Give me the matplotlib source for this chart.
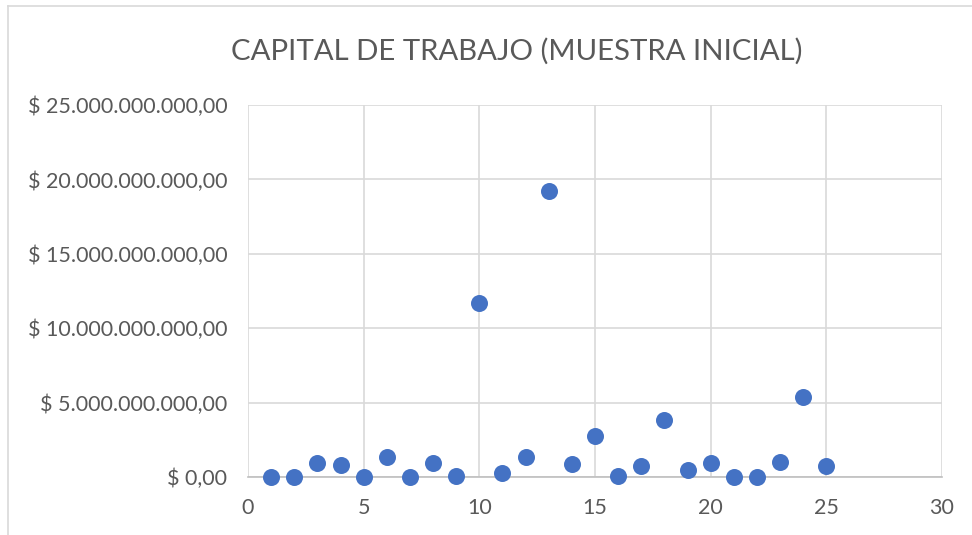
import matplotlib.pyplot as plt
from matplotlib.ticker import FuncFormatter
from matplotlib.lines import Line2D

muestra = list(range(1, 26))
capital = [0.02e9, 0.01e9, 0.94e9, 0.83e9, 0.01e9, 1.32e9, 0.03e9, 0.96e9, 0.08e9, 11.7e9,
           0.25e9, 1.36e9, 19.2e9, 0.85e9, 2.77e9, 0.07e9, 0.74e9, 3.85e9, 0.47e9, 0.96e9,
           0.01e9, 0.01e9, 1.01e9, 5.36e9, 0.74e9]
x_ticks = [0, 5, 10, 15, 20, 25, 30]
y_ticks = [0, 5e9, 10e9, 15e9, 20e9, 25e9]

plt.rcParams["font.family"] = ["Lato", "DejaVu Sans"]


def pesos(v, pos):
    if v == 0:
        return "$ 0,00"
    s = f"{v:,.2f}".replace(",", "X").replace(".", ",").replace("X", ".")
    return f"$ {s}"


fig = plt.figure(figsize=(9.72, 5.35), dpi=100)
ax = fig.add_axes([248 / 972, 1 - 477 / 535, (942 - 248) / 972, (477 - 105) / 535])

ax.scatter(muestra, capital, s=150, color="#4472C4", zorder=3, linewidths=0, clip_on=False)

ax.set_xlim(0, 30)
ax.set_ylim(0, 25e9)
ax.set_xticks(x_ticks)
ax.set_yticks(y_ticks)
ax.yaxis.set_major_formatter(FuncFormatter(pesos))
ax.grid(True, color="#d9d9d9", linewidth=1.2)
ax.set_axisbelow(True)
for side in ["top", "right", "left"]:
    ax.spines[side].set_visible(False)
ax.spines["bottom"].set_color("#bfbfbf")
ax.spines["bottom"].set_linewidth(1.2)
ax.tick_params(length=0, labelsize=15.5, colors="#595959")
ax.tick_params(axis="y", pad=15)
ax.tick_params(axis="x", pad=15)

fig.text(517 / 972, 1 - 51 / 535, "CAPITAL DE TRABAJO (MUESTRA INICIAL)", ha="center", va="center",
         fontsize=21.2, color="#595959")

# chart frame (left and top edges visible in the reference)
fig.lines.append(Line2D([8 / 972, 8 / 972], [0, 1 - 6 / 535], transform=fig.transFigure,
                        color="#d9d9d9", linewidth=1.2))
fig.lines.append(Line2D([8 / 972, 1], [1 - 6 / 535, 1 - 6 / 535], transform=fig.transFigure,
                        color="#d9d9d9", linewidth=1.2))

plt.savefig("out.png", dpi=100)
